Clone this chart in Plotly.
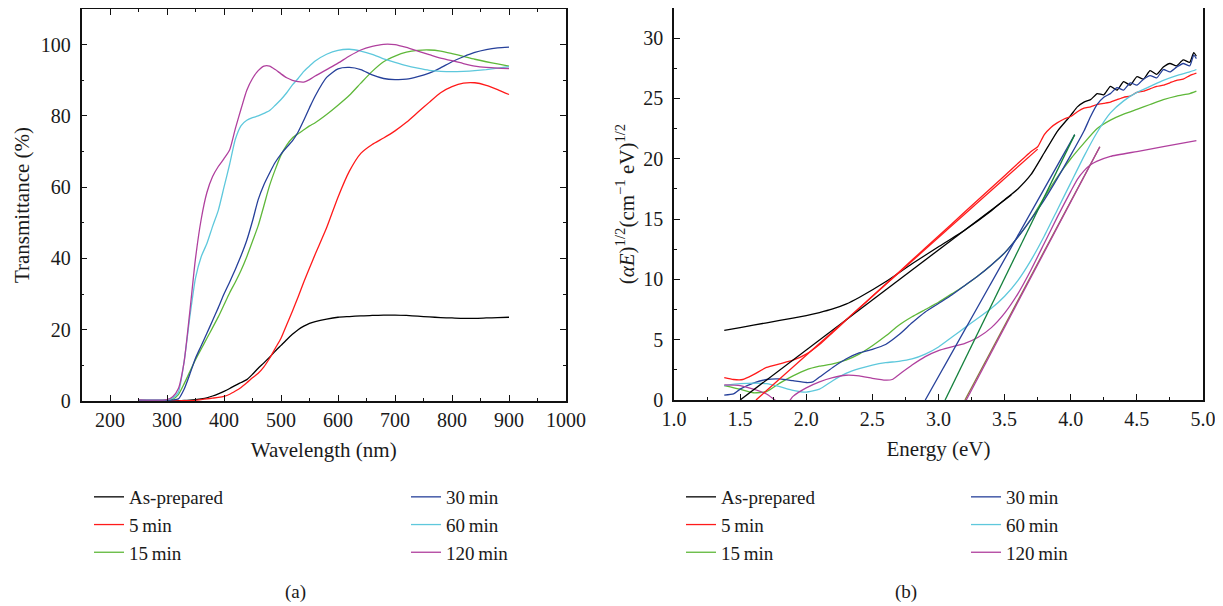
import plotly.graph_objects as go

# ---- panel (a): transmittance vs wavelength ----
wl = [250, 300, 310, 320, 330, 340, 350, 360, 370, 380, 390, 400, 410, 420, 430, 440, 450, 460,
      470, 480, 490, 500, 510, 520, 530, 540, 550, 560, 580, 600, 620, 640, 660, 680, 700, 720,
      740, 760, 780, 800, 820, 840, 860, 880, 900]

t_asprep = [0.0, 0.0, 0.0, 0.1, 0.15, 0.25, 0.4, 0.6, 0.9, 1.4, 2.0, 2.7, 3.5, 4.4, 5.2, 6.0, 7.5, 9.2,
            10.7, 12.3, 14.0, 15.6, 17.2, 18.7, 20.0, 21.0, 21.8, 22.3, 23.0, 23.5, 23.7, 23.9, 24.0, 24.1, 24.1, 24.0,
            23.8, 23.6, 23.4, 23.3, 23.2, 23.2, 23.3, 23.4, 23.5]
t_5min = [0.0, 0.0, 0.0, 0.05, 0.1, 0.1, 0.2, 0.4, 0.6, 0.8, 1.0, 1.3, 1.9, 2.8, 3.8, 5.1, 6.5, 7.8,
          9.6, 12.0, 14.8, 17.6, 21.4, 25.2, 29.2, 33.4, 37.3, 41.2, 48.6, 57.2, 64.5, 69.5, 72.0, 73.8, 75.8, 78.2,
          81.0, 83.8, 86.5, 88.2, 89.2, 89.3, 88.6, 87.4, 86.0]
t_15min = [0.2, 0.2, 0.5, 1.8, 4.8, 8.2, 11.6, 14.6, 17.6, 20.6, 23.6, 27.0, 30.4, 33.4, 36.7, 40.5, 44.8, 49.2,
           54.8, 60.5, 65.0, 69.0, 71.8, 73.8, 75.0, 76.1, 77.2, 78.1, 80.4, 83.0, 85.8, 89.2, 92.5, 95.2, 96.8, 97.9,
           98.4, 98.5, 98.2, 97.5, 96.7, 95.9, 95.2, 94.6, 94.0]
t_30min = [0.2, 0.2, 0.3, 0.6, 3.3, 7.5, 12.0, 15.5, 19.0, 22.6, 26.2, 30.0, 33.4, 37.0, 40.8, 45.1, 50.5, 56.5,
           60.7, 64.0, 67.0, 69.3, 71.2, 73.0, 75.5, 78.8, 82.3, 85.6, 90.8, 93.2, 93.6, 93.0, 91.5, 90.5, 90.2, 90.3,
           91.0, 92.0, 93.5, 95.2, 96.6, 97.8, 98.6, 99.1, 99.3]
t_60min = [0.3, 0.4, 0.8, 2.5, 11.0, 23.5, 34.5, 40.5, 44.2, 49.0, 53.5, 60.0, 66.5, 73.5, 77.3, 78.8, 79.5, 80.0,
           80.7, 81.5, 83.0, 84.6, 86.5, 88.7, 90.5, 92.5, 94.0, 95.4, 97.3, 98.4, 98.7, 98.2, 97.3, 96.0, 95.0, 94.1,
           93.4, 92.8, 92.5, 92.4, 92.5, 92.7, 93.0, 93.4, 93.8]
t_120min = [0.3, 0.4, 1.2, 3.5, 11.0, 25.0, 40.0, 51.0, 58.5, 63.0, 65.8, 68.0, 70.5, 76.5, 82.0, 87.2, 90.5, 92.7,
            94.0, 94.0, 93.0, 91.8, 90.7, 90.0, 89.6, 89.5, 90.2, 91.2, 93.0, 94.8, 96.8, 98.5, 99.5, 100.1, 100.0, 99.2,
            98.2, 97.2, 96.2, 95.5, 94.7, 94.0, 93.6, 93.4, 93.3]

# ---- panel (b): Tauc plot ----
e_black = [1.38, 1.5, 1.6, 1.8, 2.0, 2.1, 2.2, 2.3, 2.4, 2.6, 2.8, 3.0, 3.2, 3.4, 3.5, 3.6, 3.7, 3.8, 3.9,
           4.0, 4.05, 4.1, 4.15, 4.2, 4.25, 4.3, 4.35, 4.4, 4.45, 4.5, 4.55, 4.6, 4.65, 4.7, 4.75,
           4.8, 4.85, 4.9, 4.93, 4.95]
y_black = [5.77, 6.0, 6.2, 6.6, 7.0, 7.25, 7.55, 7.95, 8.5, 9.8, 11.3, 12.7, 14.1, 15.7, 16.6, 17.5, 18.7, 20.5, 22.3,
           23.6, 24.3, 24.7, 24.9, 25.4, 25.3, 26.0, 25.7, 26.4, 26.1, 26.8, 26.6, 27.3, 27.0, 27.6, 27.9,
           27.7, 28.2, 28.0, 28.8, 28.5]

e_red = [1.38, 1.45, 1.52, 1.6, 1.7, 1.8, 1.9, 2.0, 2.1, 2.2, 2.3, 2.4, 2.5, 2.7, 2.9, 3.1, 3.3, 3.5,
         3.7, 3.75, 3.78, 3.8, 3.85, 3.9, 3.95, 4.0, 4.05, 4.1, 4.15, 4.2, 4.25, 4.3, 4.35, 4.4, 4.45,
         4.5, 4.55, 4.6, 4.65, 4.7, 4.75, 4.8, 4.85, 4.9, 4.95]
y_red = [1.85, 1.7, 1.7, 2.1, 2.7, 3.0, 3.3, 3.8, 4.6, 5.6, 6.6, 7.6, 8.6, 10.6, 12.6, 14.6, 16.6, 18.6,
         20.6, 21.0, 21.6, 22.0, 22.6, 23.0, 23.3, 23.5, 23.9, 24.2, 24.3, 24.5, 24.6, 24.7, 24.9, 25.1, 25.2,
         25.5, 25.6, 25.8, 26.0, 26.1, 26.3, 26.5, 26.6, 26.9, 27.1]

e_smooth = [1.38, 1.5, 1.6, 1.7, 1.8, 1.9, 2.0, 2.1, 2.2, 2.3, 2.4, 2.5, 2.6, 2.7, 2.8, 2.9, 3.0,
            3.1, 3.2, 3.3, 3.4, 3.5, 3.6, 3.7, 3.8, 3.9, 4.0, 4.1, 4.2, 4.3, 4.4, 4.5, 4.6, 4.7,
            4.8, 4.9, 4.95]
y_15min = [1.2, 0.9, 0.6, 0.7, 1.4, 2.0, 2.5, 2.8, 3.0, 3.3, 3.8, 4.5, 5.3, 6.2, 6.9, 7.5, 8.1,
           8.8, 9.5, 10.3, 11.2, 12.2, 13.5, 15.0, 16.8, 18.5, 20.0, 21.3, 22.5, 23.2, 23.7, 24.1, 24.5, 24.9,
           25.2, 25.4, 25.6]
y_60min = [1.2, 1.35, 1.4, 1.35, 1.1, 0.8, 0.65, 0.9, 1.6, 2.2, 2.6, 2.9, 3.1, 3.2, 3.4, 3.8, 4.4,
           5.2, 6.0, 6.8, 7.6, 8.6, 9.9, 11.6, 13.6, 15.8, 18.0, 20.2, 22.2, 23.8, 24.8, 25.5, 26.0, 26.5,
           26.9, 27.2, 27.4]

e_30min = [1.38, 1.45, 1.5, 1.6, 1.7, 1.8, 1.9, 2.0, 2.05, 2.1, 2.2, 2.3, 2.4, 2.5, 2.6, 2.7, 2.8,
           2.9, 3.0, 3.1, 3.2, 3.3, 3.4, 3.5, 3.6, 3.7, 3.8, 3.9, 4.0, 4.1, 4.15, 4.2, 4.25, 4.3, 4.35,
           4.4, 4.45, 4.5, 4.55, 4.6, 4.65, 4.7, 4.75, 4.8, 4.85, 4.9, 4.93, 4.95]
y_30min = [0.4, 0.5, 0.9, 1.4, 1.7, 1.75, 1.6, 1.45, 1.5, 1.9, 2.7, 3.4, 3.9, 4.2, 4.6, 5.4, 6.4,
           7.3, 8.0, 8.7, 9.5, 10.3, 11.2, 12.2, 13.5, 15.0, 16.6, 18.4, 20.3, 22.3, 23.5, 24.5, 25.1, 25.4, 25.9,
           25.7, 26.3, 26.1, 26.6, 26.9, 26.7, 27.4, 27.2, 27.6, 27.9, 27.7, 28.6, 28.3]

e_120min = [1.38, 1.5, 1.6, 1.7, 1.82, 1.87, 1.9, 2.0, 2.1, 2.2, 2.3, 2.4, 2.5, 2.6, 2.65, 2.7, 2.8,
            2.9, 3.0, 3.1, 3.2, 3.3, 3.4, 3.5, 3.6, 3.7, 3.8, 3.9, 4.0, 4.05, 4.1, 4.15, 4.2, 4.3,
            4.5, 4.7, 4.95]
y_120min = [1.25, 1.2, 0.9, 0.5, -0.4, -0.1, 0.3, 1.0, 1.5, 1.85, 2.05, 2.0, 1.8, 1.65, 1.7, 2.1, 2.9,
            3.6, 4.1, 4.4, 4.7, 5.2, 6.0, 7.2, 8.8, 10.8, 13.0, 15.2, 17.3, 18.3, 19.0, 19.5, 19.8, 20.2,
            20.6, 21.0, 21.5]

# linear extrapolations (start and end points)
fit_black = ([1.5, 3.55], [0.0, 17.0])
fit_red = ([1.62, 3.75], [0.0, 20.8])
fit_blue = ([2.9, 4.03], [0.0, 22.0])
fit_green = ([3.05, 4.03], [0.0, 22.0])
fit_olive = ([3.2, 4.22], [0.0, 21.0])
fit_magenta = ([3.21, 4.22], [0.0, 21.0])

names = ["As-prepared", "5\u2009min", "15\u2009min", "30\u2009min", "60\u2009min", "120\u2009min"]
colors = ["#000000", "#ff1a1a", "#5fb83a", "#26409a", "#5ec8dc", "#b0409e"]

FONT = "Liberation Serif"

fig = go.Figure()

curves_a = [t_asprep, t_5min, t_15min, t_30min, t_60min, t_120min]
for i, (nm, col, yv) in enumerate(zip(names, colors, curves_a)):
    fig.add_trace(go.Scatter(x=wl, y=yv, mode="lines", name=nm,
                             line=dict(color=col, width=1.3, shape="spline", smoothing=0.6),
                             xaxis="x", yaxis="y",
                             legend="legend" if i < 3 else "legend2"))

curves_b = [(e_black, y_black), (e_red, y_red), (e_smooth, y_15min),
            (e_30min, y_30min), (e_smooth, y_60min), (e_120min, y_120min)]
for i, (nm, col, (ev, yv)) in enumerate(zip(names, colors, curves_b)):
    fig.add_trace(go.Scatter(x=ev, y=yv, mode="lines", name=nm,
                             line=dict(color=col, width=1.3, shape="spline", smoothing=0.5),
                             xaxis="x2", yaxis="y2",
                             legend="legend3" if i < 3 else "legend4"))

for (fx_, fy_), col in [(fit_black, "#000000"), (fit_red, "#ff1a1a"), (fit_blue, "#26409a"),
                        (fit_green, "#13803c"), (fit_olive, "#8a7a3a"), (fit_magenta, "#b0409e")]:
    fig.add_trace(go.Scatter(x=fx_, y=fy_, mode="lines", showlegend=False,
                             line=dict(color=col, width=1.3), xaxis="x2", yaxis="y2"))

# page has an 8px body margin, so the figure is placed at (8, 8)
OX, OY = 8, 8
W, H = 1215, 598


def px(x):
    return min(1.0, max(0.0, (x - OX) / W))


def py(y):
    return min(1.0, max(0.0, (H - (y - OY)) / H))


tickfont = dict(family=FONT, size=20, color="#1a1a1a")
titlefont = dict(family=FONT, size=21, color="#1a1a1a")
axis_common = dict(showgrid=False, zeroline=False, showline=True, linecolor="#111111",
                   linewidth=1.6, ticks="inside", ticklen=6, tickwidth=1.3, tickcolor="#111111",
                   tickfont=tickfont, automargin=False)

leg_common = dict(font=dict(family=FONT, size=19, color="#1a1a1a"), bgcolor="rgba(0,0,0,0)",
                  xanchor="left", yanchor="top", tracegroupgap=0, itemwidth=30)

fig.update_layout(
    width=W, height=H,
    margin=dict(l=0, r=0, t=0, b=0),
    plot_bgcolor="white", paper_bgcolor="white",
    font=dict(family=FONT, color="#1a1a1a"),
    xaxis=dict(axis_common, domain=[px(81.5), px(566)], range=[150, 1000], dtick=100, tick0=0,
               mirror="ticks", anchor="y", ticklabelstandoff=0,
               minor=dict(dtick=50, ticklen=3, ticks="inside", tickcolor="#111111"),
               title=dict(text="Wavelength (nm)", font=titlefont, standoff=13)),
    yaxis=dict(axis_common, domain=[py(401), py(9)], range=[0, 110], dtick=20,
               mirror="ticks", anchor="x", ticklabelstandoff=5,
               minor=dict(dtick=10, ticklen=3, ticks="inside", tickcolor="#111111"),
               title=dict(text="Transmittance (%)", font=titlefont, standoff=5)),
    xaxis2=dict(axis_common, domain=[px(674), px(1203)], range=[1.0, 5.0], dtick=0.5, tick0=0,
                tickformat=".1f", mirror=True, anchor="y2", ticklabelstandoff=0,
                minor=dict(dtick=0.25, ticklen=3, ticks="inside", tickcolor="#111111"),
                title=dict(text="Energy (eV)", font=titlefont, standoff=13)),
    yaxis2=dict(axis_common, domain=[py(400), py(7)], range=[0, 32.5], dtick=5,
                mirror=True, anchor="x2", ticklabelstandoff=5,
                minor=dict(dtick=2.5, ticklen=3, ticks="inside", tickcolor="#111111"),
                title=dict(text="(<i>αE</i>)<sup>1/2</sup>(cm<sup>−1</sup> eV)<sup>1/2</sup>",
                           font=titlefont, standoff=3)),
    legend=dict(leg_common, x=px(89), y=py(478)),
    legend2=dict(leg_common, x=px(406), y=py(478)),
    legend3=dict(leg_common, x=px(681), y=py(478)),
    legend4=dict(leg_common, x=px(966), y=py(478)),
    annotations=[
        dict(text="(a)", x=px(295), y=py(592), xref="paper", yref="paper",
             xanchor="center", yanchor="middle",
             showarrow=False, font=dict(family=FONT, size=19, color="#1a1a1a")),
        dict(text="(b)", x=px(906), y=py(592), xref="paper", yref="paper",
             xanchor="center", yanchor="middle",
             showarrow=False, font=dict(family=FONT, size=19, color="#1a1a1a")),
    ],
)

fig.write_html("out.html")
